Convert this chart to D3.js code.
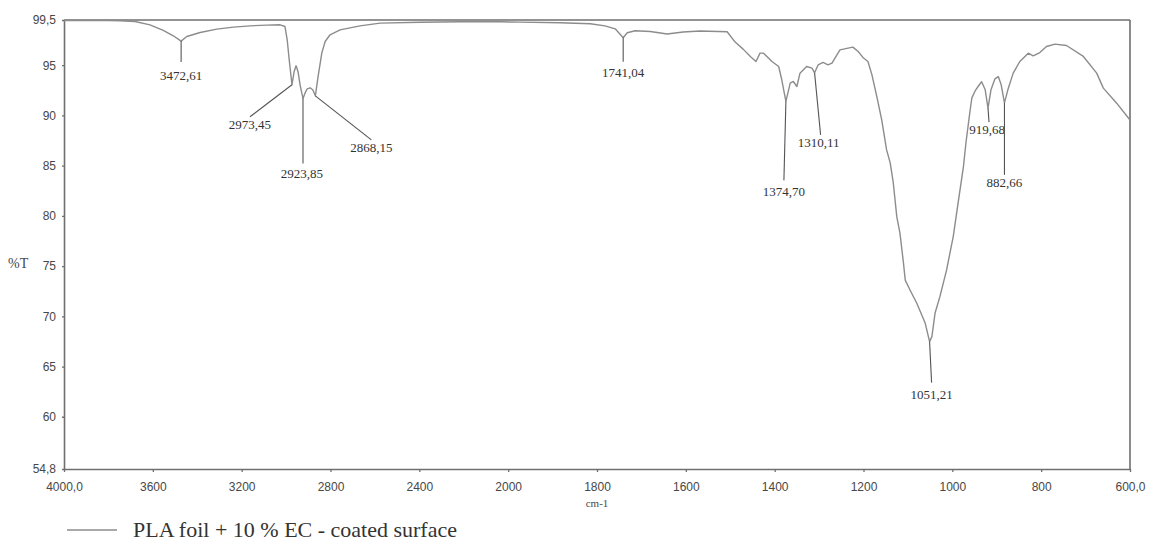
<!DOCTYPE html>
<html>
<head>
<meta charset="utf-8">
<script src="https://cdn.jsdelivr.net/npm/d3@7/dist/d3.min.js"></script>
<style>
  html, body { margin: 0; padding: 0; background: #fff; }
  svg { display: block; }
</style>
</head>
<body>
<svg id="chart" width="1149" height="542"></svg>
<script>
// ---- DATA ----
const wavenumber = [
  4000, 3900, 3800, 3748, 3680, 3613, 3553, 3508, 3472.61, 3447, 3387, 3312, 3237, 3162, 3087, 3027,
  3005, 2995, 2986, 2973.45, 2964, 2955, 2946, 2937, 2923.85, 2914, 2905, 2892, 2880, 2868.15,
  2856, 2839, 2824, 2802, 2757, 2667, 2577, 2396, 2216, 2036,
  1973, 1883, 1815, 1782, 1759, 1741.04, 1732, 1714, 1680, 1642, 1606, 1568, 1507,
  1489, 1471, 1453, 1442, 1433, 1425, 1406, 1391, 1384, 1374.70, 1365, 1358, 1350, 1343,
  1328, 1316, 1310.11, 1302, 1291, 1280, 1271, 1253, 1224, 1212, 1200, 1190, 1181, 1170,
  1159, 1148, 1140, 1133, 1125, 1118, 1110, 1106, 1095, 1080, 1061, 1051.21, 1046, 1039,
  1028, 1013, 998, 986, 975, 969, 960, 956, 948, 942, 934, 926, 919.68, 913, 904, 896.5,
  890, 882.66, 875, 863, 848, 829, 818, 803, 788, 769, 743, 705, 675, 660, 630, 600
];
const transmittance = [
  99.45, 99.45, 99.45, 99.43, 99.35, 99.02, 98.46, 97.93, 97.40, 97.86, 98.26, 98.59, 98.79, 98.92, 98.99, 99.02,
  98.85, 97.53, 95.54, 93.05, 94.34, 94.94, 94.34, 93.05, 91.68, 92.25, 92.65, 92.75, 92.55, 91.95,
  93.87, 96.23, 97.36, 98.03, 98.52, 98.92, 99.19, 99.27, 99.32, 99.32,
  99.29, 99.22, 99.12, 98.92, 98.62, 97.73, 98.23, 98.43, 98.36, 98.10, 98.30, 98.40, 98.33,
  97.30, 96.60, 95.80, 95.37, 96.20, 96.20, 95.37, 94.87, 93.55, 91.40, 93.22, 93.38, 92.88, 94.21,
  94.87, 94.71, 94.24, 95.04, 95.27, 95.04, 95.21, 96.53, 96.80, 96.36, 95.71, 95.37, 94.04, 91.88,
  89.56, 86.57, 85.30, 83.30, 79.90, 78.30, 75.30, 73.60, 72.60, 71.30, 69.30, 67.48, 67.98, 70.30,
  71.96, 74.60, 77.94, 81.60, 84.90, 87.40, 90.50, 91.75, 92.50, 92.88, 93.35, 92.55, 90.73, 92.55, 93.64, 93.87,
  93.05, 91.25, 92.55, 94.21, 95.37, 96.20, 95.94, 96.26, 96.86, 97.10, 96.96, 95.87, 94.21, 92.72, 91.22, 89.55
];
const xTickValues = [4000, 3600, 3200, 2800, 2400, 2000, 1800, 1600, 1400, 1200, 1000, 800, 600];
const xTickLabels = ["4000,0", "3600", "3200", "2800", "2400", "2000", "1800", "1600", "1400", "1200", "1000", "800", "600,0"];
const yTickValues = [54.8, 60, 65, 70, 75, 80, 85, 90, 95, 99.5];
const yTickLabels = ["54,8", "60", "65", "70", "75", "80", "85", "90", "95", "99,5"];
const peakWavenumbers = [3472.61, 2973.45, 2923.85, 2868.15, 1741.04, 1374.70, 1310.11, 1051.21, 919.68, 882.66];
const peakLabels = ["3472,61", "2973,45", "2923,85", "2868,15", "1741,04", "1374,70", "1310,11", "1051,21", "919,68", "882,66"];
const seriesName = "PLA foil + 10 % EC - coated surface";
const xAxisTitle = "cm-1";
const yAxisTitle = "%T";

// ---- LAYOUT ----
const plotL = 64, plotR = 1130, plotT = 20, plotB = 469;
// annotation leader ends, pixel offsets from the peak point
const leader = [[0, 21], [-42, 32], [0, 65], [56, 44], [0, 24], [-2, 79], [6, 62], [2, 41], [1, 14], [0, 72]];
const labelShift = [[0, 13], [0, 8], [-1, 10], [0, 8], [0, 11], [0, 11], [-2, 8], [0, 12], [-2, 7], [0, 8]];

const svg = d3.select("#chart");

const x = d3.scaleLinear().domain([4000, 2000, 600]).range([plotL, (plotL + (plotR - plotL) * 5 / 12), plotR]);
const y = d3.scaleLinear().domain([54.8, 99.5]).range([plotB, plotT]);

const axisColor = "#6f6f6f";
const textColor = "#474747";

// X axis
const xAxis = d3.axisBottom(x)
  .tickValues(xTickValues)
  .tickFormat((d, i) => xTickLabels[i])
  .tickSize(3)
  .tickSizeOuter(0);
const gx = svg.append("g").attr("transform", `translate(0,${plotB})`).call(xAxis);
gx.select(".domain").attr("stroke", axisColor).attr("stroke-width", 1.6);
gx.selectAll(".tick line").attr("stroke", axisColor).attr("stroke-width", 1.3);
gx.selectAll(".tick text")
  .attr("fill", textColor)
  .attr("font-family", "'Liberation Sans', Arial, sans-serif")
  .attr("font-size", 12)
  .attr("dy", "1.3em");

// Y axis
const yAxis = d3.axisLeft(y)
  .tickValues(yTickValues)
  .tickFormat((d, i) => yTickLabels[i])
  .tickSize(2)
  .tickSizeOuter(0);
const gy = svg.append("g").attr("transform", `translate(${plotL},0)`).call(yAxis);
gy.select(".domain").attr("stroke", axisColor).attr("stroke-width", 1.6);
gy.selectAll(".tick line").attr("stroke", axisColor).attr("stroke-width", 1.3);
gy.selectAll(".tick text")
  .attr("fill", textColor)
  .attr("font-family", "'Liberation Sans', Arial, sans-serif")
  .attr("font-size", 12)
  .attr("x", -8);

// top and right frame
svg.append("line").attr("x1", plotL).attr("x2", plotR).attr("y1", plotT).attr("y2", plotT)
  .attr("stroke", axisColor).attr("stroke-width", 1.6);
svg.append("line").attr("x1", plotR).attr("x2", plotR).attr("y1", plotT).attr("y2", plotB)
  .attr("stroke", axisColor).attr("stroke-width", 1.6);

// Axis titles
svg.append("text").attr("x", 8).attr("y", 268)
  .attr("font-family", "'Liberation Serif', 'Times New Roman', serif")
  .attr("font-size", 14).attr("fill", textColor).text(yAxisTitle);
svg.append("text").attr("x", (plotL + plotR) / 2).attr("y", 507)
  .attr("text-anchor", "middle")
  .attr("font-family", "'Liberation Serif', 'Times New Roman', serif")
  .attr("font-size", 11).attr("fill", textColor).text(xAxisTitle);

// Spectrum
const pts = wavenumber.map((w, i) => [w, transmittance[i]]);
const line = d3.line().x(d => x(d[0])).y(d => y(d[1])).curve(d3.curveLinear);
svg.append("path").datum(pts)
  .attr("d", line)
  .attr("fill", "none")
  .attr("stroke", "#8c8c8c")
  .attr("stroke-width", 1.4)
  .attr("stroke-linejoin", "round");

// Peak annotations
peakWavenumbers.forEach((w, i) => {
  const idx = wavenumber.indexOf(w);
  const px = x(w), py = y(transmittance[idx]);
  const ex = px + leader[i][0], ey = py + leader[i][1];
  svg.append("line").attr("x1", px).attr("y1", py).attr("x2", ex).attr("y2", ey)
    .attr("stroke", "#555").attr("stroke-width", 1.1);
  svg.append("text")
    .attr("x", ex + labelShift[i][0]).attr("y", ey + labelShift[i][1])
    .attr("dominant-baseline", "central")
    .attr("text-anchor", "middle")
    .attr("font-family", "'Liberation Serif', 'Times New Roman', serif")
    .attr("font-size", 13)
    .attr("fill", "#333")
    .text(peakLabels[i]);
});

// Legend
svg.append("line").attr("x1", 67).attr("x2", 117).attr("y1", 530).attr("y2", 530)
  .attr("stroke", "#8c8c8c").attr("stroke-width", 1.4);
svg.append("text").attr("x", 133).attr("y", 537)
  .attr("font-family", "'Liberation Serif', 'Times New Roman', serif")
  .attr("font-size", 22).attr("fill", "#333").text(seriesName);
</script>
</body>
</html>
